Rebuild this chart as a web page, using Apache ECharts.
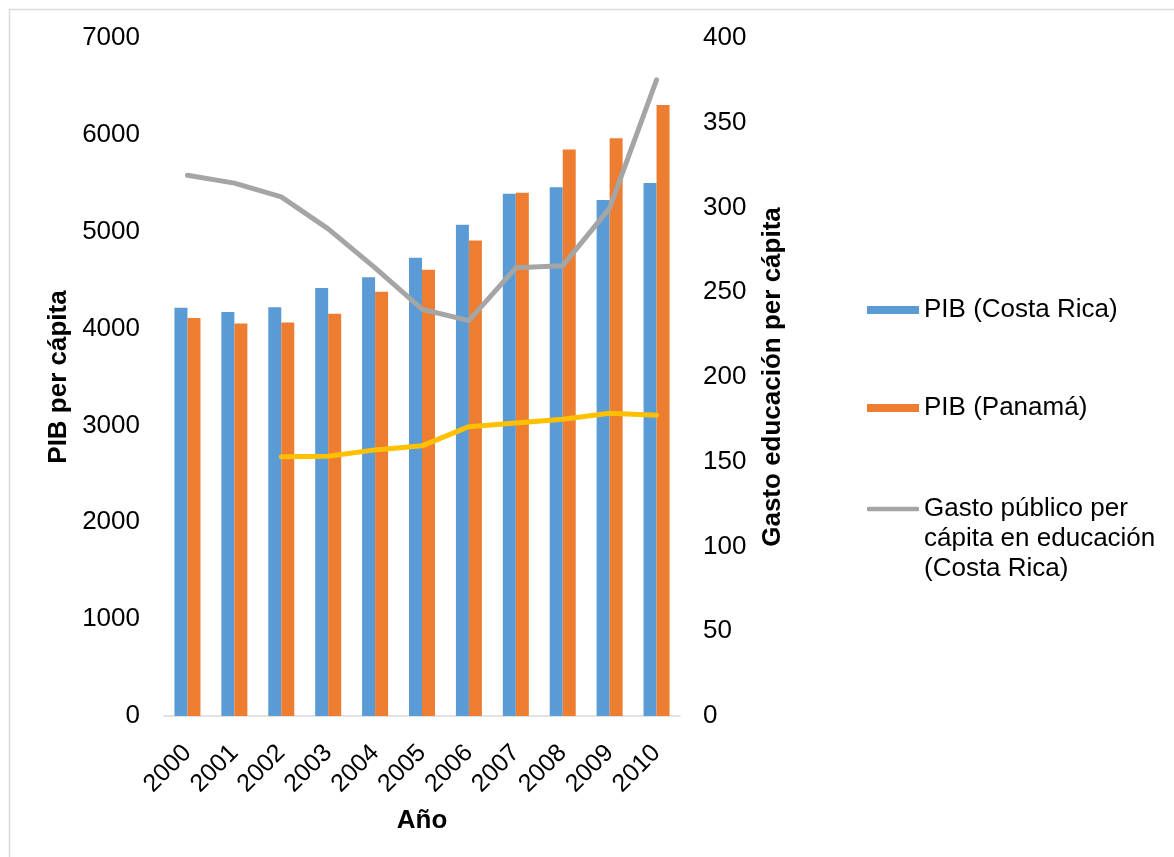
<!DOCTYPE html>
<html>
<head>
<meta charset="utf-8">
<script src="https://cdn.jsdelivr.net/npm/echarts@6/dist/echarts.min.js"></script>
<style>
  html, body { margin: 0; padding: 0; background: #fff; }
  #chart { width: 1174px; height: 857px; }
</style>
</head>
<body>
<div id="chart"></div>
<script>
// Años
const years = ['2000', '2001', '2002', '2003', '2004', '2005', '2006', '2007', '2008', '2009', '2010'];

// PIB per cápita (eje izquierdo)
const pibCostaRica = [4214, 4172, 4219, 4418, 4531, 4730, 5071, 5393, 5459, 5327, 5502];
const pibPanama    = [4110, 4053, 4063, 4153, 4380, 4607, 4910, 5403, 5848, 5966, 6307];

// Gasto público per cápita en educación (eje derecho)
const gastoCostaRica = [319, 314.4, 306.3, 287.4, 264.4, 240, 233.3, 264.4, 265.7, 299.6, 375.3];
const gastoPanama    = [null, null, 152.9, 153.2, 157, 159.4, 170.7, 172.9, 175.1, 178.6, 177.5];

// Nombres de series
const nameCR = 'PIB (Costa Rica)';
const namePA = 'PIB (Panamá)';
const nameGastoCR = 'Gasto público per\ncápita en educación\n(Costa Rica)';
const nameGastoPA = 'Gasto público per cápita en educación (Panamá)';

const FONT = "'Liberation Sans', Arial, sans-serif";
const TXT = '#000000';

const chart = echarts.init(document.getElementById('chart'), null, { renderer: 'canvas' });

const legendText = { fontFamily: FONT, fontSize: 26, color: TXT, lineHeight: 30 };
const legendBase = {
  orient: 'vertical',
  left: 862,
  itemWidth: 52,
  itemHeight: 8,
  icon: 'rect',
  selectedMode: false,
  textStyle: legendText
};

chart.setOption({
  animation: false,
  backgroundColor: '#ffffff',
  graphic: [{
    type: 'rect',
    silent: true,
    shape: { x: 9.5, y: 9.5, width: 1200, height: 900 },
    style: { fill: 'none', stroke: '#d9d9d9', lineWidth: 1.5 }
  }],
  grid: { left: 164, right: 494, top: 38, bottom: 141, containLabel: false },
  legend: [
    Object.assign({}, legendBase, { top: 290, data: [nameCR] }),
    Object.assign({}, legendBase, { top: 388, data: [namePA] }),
    Object.assign({}, legendBase, {
      // dos líneas en blanco delante: el icono queda a la altura de la primera línea del texto
      top: 429,
      itemHeight: 4.5,
      icon: 'roundRect',
      data: [nameGastoCR],
      formatter: function (name) { return '\n\n' + name; }
    })
  ],
  xAxis: {
    type: 'category',
    data: years,
    name: 'Año',
    nameLocation: 'middle',
    nameGap: 92,
    nameTextStyle: { fontFamily: FONT, fontSize: 26, fontWeight: 'bold', color: TXT },
    axisLine: { show: true, lineStyle: { color: '#d9d9d9', width: 1.5 } },
    axisTick: { show: false },
    axisLabel: { rotate: 45, margin: 33, fontFamily: FONT, fontSize: 25, color: TXT, interval: 0 }
  },
  yAxis: [
    {
      type: 'value',
      min: 0, max: 7000, interval: 1000,
      name: 'PIB per cápita',
      nameLocation: 'middle',
      nameGap: 92,
      nameTextStyle: { fontFamily: FONT, fontSize: 26, fontWeight: 'bold', color: TXT },
      axisLine: { show: false },
      axisTick: { show: false },
      splitLine: { show: false },
      axisLabel: { margin: 24, fontFamily: FONT, fontSize: 26, color: TXT, formatter: function (v) { return String(v); } }
    },
    {
      type: 'value',
      position: 'right',
      min: 0, max: 400, interval: 50,
      name: 'Gasto educación per cápita',
      nameLocation: 'middle',
      nameGap: 80,
      nameTextStyle: { fontFamily: FONT, fontSize: 26, fontWeight: 'bold', color: TXT },
      axisLine: { show: false },
      axisTick: { show: false },
      splitLine: { show: false },
      axisLabel: { margin: 23, fontFamily: FONT, fontSize: 26, color: TXT, formatter: function (v) { return String(v); } }
    }
  ],
  series: [
    {
      name: nameCR,
      type: 'bar',
      yAxisIndex: 0,
      data: pibCostaRica,
      barWidth: 13,
      barGap: '0%',
      itemStyle: { color: '#5B9BD5' }
    },
    {
      name: namePA,
      type: 'bar',
      yAxisIndex: 0,
      data: pibPanama,
      barWidth: 13,
      barGap: '0%',
      itemStyle: { color: '#ED7D31' }
    },
    {
      name: nameGastoCR,
      type: 'line',
      yAxisIndex: 1,
      data: gastoCostaRica,
      symbol: 'none',
      lineStyle: { color: '#A5A5A5', width: 5, cap: 'round', join: 'round' },
      itemStyle: { color: '#A5A5A5' }
    },
    {
      name: nameGastoPA,
      type: 'line',
      yAxisIndex: 1,
      data: gastoPanama,
      symbol: 'none',
      connectNulls: false,
      lineStyle: { color: '#FFC000', width: 5, cap: 'round', join: 'round' },
      itemStyle: { color: '#FFC000' }
    }
  ]
});
</script>
</body>
</html>
